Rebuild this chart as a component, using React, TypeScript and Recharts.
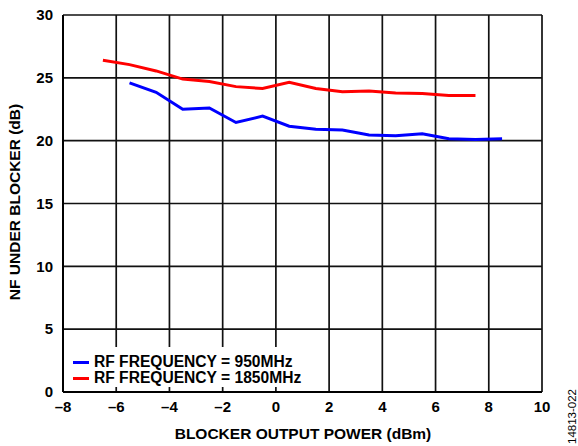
import { LineChart, Line, XAxis, YAxis, CartesianGrid, Legend } from 'recharts'

// blocker output power (dBm) and NF (dB)
const power950 = [-5.5, -4.5, -3.5, -2.5, -1.5, -0.5, 0.5, 1.5, 2.5, 3.5, 4.5, 5.5, 6.5, 7.5, 8.5]
const nf950 = [24.6, 23.85, 22.5, 22.6, 21.45, 21.95, 21.15, 20.9, 20.85, 20.45, 20.4, 20.55, 20.15, 20.1, 20.15]

const power1850 = [-6.5, -5.5, -4.5, -3.5, -2.5, -1.5, -0.5, 0.5, 1.5, 2.5, 3.5, 4.5, 5.5, 6.5, 7.5]
const nf1850 = [26.4, 26.05, 25.55, 24.9, 24.7, 24.3, 24.15, 24.65, 24.15, 23.9, 23.95, 23.8, 23.75, 23.6, 23.6]

const xTicks = [-8, -6, -4, -2, 0, 2, 4, 6, 8, 10]
const yTicks = [0, 5, 10, 15, 20, 25, 30]

const series950 = power950.map((p, i) => ({ power: p, nf: nf950[i] }))
const series1850 = power1850.map((p, i) => ({ power: p, nf: nf1850[i] }))

const FONT = '"Liberation Sans", Arial, Helvetica, sans-serif'
const fmt = (v: number) => String(v).replace('-', '\u2013')

function LegendBox() {
  const rows = [
    { color: '#0000ff', label: 'RF FREQUENCY = 950MHz' },
    { color: '#ff0000', label: 'RF FREQUENCY = 1850MHz' },
  ]
  return (
    <div style={{ background: '#fff', width: 245, height: 40, paddingTop: 7, boxSizing: 'border-box' }}>
      {rows.map((r) => (
        <div key={r.label} style={{ display: 'flex', alignItems: 'center', height: 16, fontFamily: FONT, fontWeight: 'bold', fontSize: 15.6, color: '#000' }}>
          <span style={{ display: 'inline-block', width: 16, height: 3, background: r.color, marginLeft: 9, marginRight: 5 }} />
          <span>{r.label}</span>
        </div>
      ))}
    </div>
  )
}

export default function App() {
  return (
    <div style={{ position: 'absolute', left: 0, top: 0, width: 578, height: 446, background: '#fff' }}>
      <LineChart width={578} height={446} margin={{ top: 15, right: 36, left: 13, bottom: 24 }}>
        <CartesianGrid stroke="#111" strokeWidth={1.7} />
        <XAxis
          type="number"
          dataKey="power"
          domain={[-8, 10]}
          ticks={xTicks}
          allowDuplicatedCategory={false}
          height={30}
          tickLine={false}
          tickSize={0}
          tickMargin={9}
          tickFormatter={fmt}
          axisLine={{ stroke: '#000', strokeWidth: 2 }}
          tick={{ fill: '#000', fontFamily: FONT, fontWeight: 'bold', fontSize: 15 }}
          label={{
            content: () => (
              <text x={303} y={439} textAnchor="middle" fontFamily={FONT} fontWeight="bold" fontSize={15.5} fill="#000">
                BLOCKER OUTPUT POWER (dBm)
              </text>
            ),
          }}
        />
        <YAxis
          type="number"
          domain={[0, 30]}
          ticks={yTicks}
          width={50}
          tickLine={false}
          tickSize={0}
          tickMargin={10}
          axisLine={{ stroke: '#000', strokeWidth: 2 }}
          tick={{ fill: '#000', fontFamily: FONT, fontWeight: 'bold', fontSize: 15 }}
          label={{
            content: () => (
              <text x={20} y={202} transform="rotate(-90 20 202)" textAnchor="middle" fontFamily={FONT} fontWeight="bold" fontSize={15.5} fill="#000">
                NF UNDER BLOCKER (dB)
              </text>
            ),
          }}
        />
        <Legend
          layout="horizontal"
          align="center"
          verticalAlign="middle"
          content={() => <LegendBox />}
          wrapperStyle={{ position: 'absolute', left: 64, top: 347, width: 245 }}
        />
        <Line data={series950} dataKey="nf" stroke="#0000ff" strokeWidth={3} dot={false} isAnimationActive={false} />
        <Line data={series1850} dataKey="nf" stroke="#ff0000" strokeWidth={3} dot={false} isAnimationActive={false} />
      </LineChart>
      <div style={{ position: 'absolute', left: 566, top: 444, transform: 'rotate(-90deg)', transformOrigin: '0 0', fontFamily: FONT, fontSize: 11.5, color: '#000', whiteSpace: 'nowrap' }}>
        14813-022
      </div>
    </div>
  )
}
